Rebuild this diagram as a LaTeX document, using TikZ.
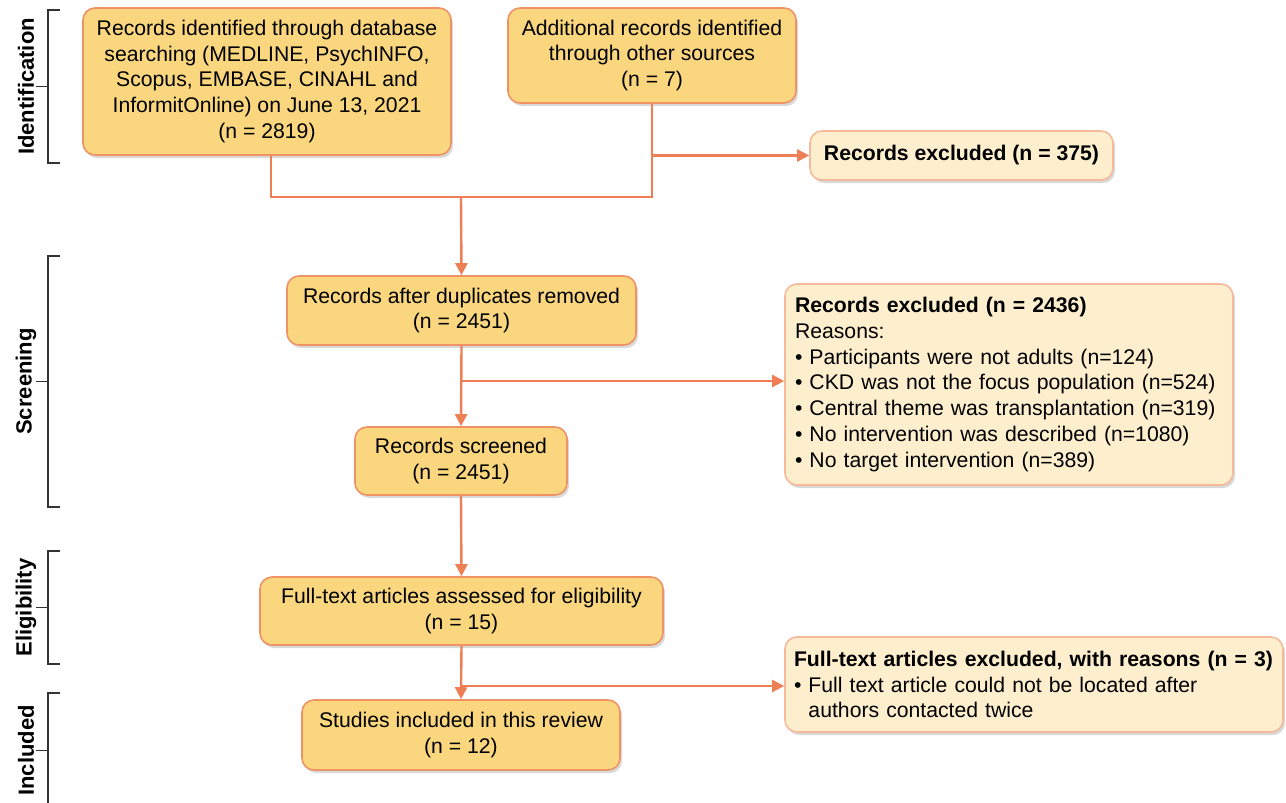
\documentclass[tikz,border=0pt]{standalone}
\usepackage{fontspec}
\setmainfont{Liberation Sans}
\usepackage{xcolor}
\usepackage{tikz}
\usetikzlibrary{arrows.meta,positioning,shadows}
\definecolor{figgold}{HTML}{FAD77E}
\definecolor{figedge}{HTML}{EF9367}
\definecolor{figcream}{HTML}{FDEFCD}
\definecolor{figpeach}{HTML}{F6B99A}
\definecolor{figarrow}{HTML}{EE7F55}
\definecolor{figdark}{HTML}{333333}

\begin{document}
\begin{tikzpicture}[x=0.5pt,y=-0.5pt,
  stagebox/.style={draw=figedge, fill=figgold, rounded corners=6pt, line width=0.8pt,
    align=center, inner sep=2pt, font=\fontsize{10.6}{12.9}\selectfont,
    drop shadow={shadow xshift=1pt, shadow yshift=-1.5pt, opacity=0.25, fill=black!60}},
  exclbox/.style={stagebox, draw=figpeach, fill=figcream},
  flow/.style={draw=figarrow, line width=1.2pt},
  flowarr/.style={flow, -{Triangle[length=6pt,width=6pt]}},
  phase/.style={rotate=90, font=\fontsize{11}{13}\selectfont\bfseries},
  bracket/.style={draw=figdark, line width=0.8pt}]
\useasboundingbox (0,0) rectangle (1286,803);

% stages
\node[stagebox, minimum width=184pt, minimum height=73.5pt] (dbsearch) at (267,81.5)
  {Records identified through database\\searching (MEDLINE, PsychINFO,\\Scopus, EMBASE, CINAHL and\\InformitOnline) on June 13, 2021\\(n = 2819)};
\node[stagebox, minimum width=144pt, minimum height=47.5pt] (othersrc) at (652,55.5)
  {Additional records identified\\through other sources\\(n = 7)};
\node[exclbox, minimum width=151.5pt, minimum height=24.5pt] (exclid) at (961.5,155.5)
  {\bfseries Records excluded (n = 375)};
\node[stagebox, minimum width=174.5pt, minimum height=34.5pt] (dedup) at (461.5,310.5)
  {Records after duplicates removed\\(n = 2451)};
\node[exclbox, align=left, text width=214pt, inner xsep=5pt, minimum height=100.5pt] (exclscr) at (1009,384.5)
  {\textbf{Records excluded (n = 2436)}\\Reasons:\\• Participants were not adults (n=124)\\\mbox{• CKD was not the focus population (n=524)}\\\mbox{• Central theme was transplantation (n=319)}\\\mbox{• No intervention was described (n=1080)}\\• No target intervention (n=389)};
\node[stagebox, minimum width=106pt, minimum height=34pt] (screened) at (461,461)
  {Records screened\\(n = 2451)};
\node[stagebox, minimum width=201.5pt, minimum height=34pt] (fulltext) at (461.5,611)
  {Full-text articles assessed for eligibility\\(n = 15)};
\node[exclbox, align=left, text width=240pt, inner xsep=4.5pt, minimum height=47.5pt] (exclfull) at (1034,684.5)
  {\mbox{\textbf{Full-text articles excluded, with reasons (n = 3)}}\\\mbox{• Full text article could not be located after}\\\hphantom{• }authors contacted twice};
\node[stagebox, minimum width=159pt, minimum height=35pt] (included) at (461,735)
  {Studies included in this review\\(n = 12)};

% connectors
\coordinate (merge) at (461,197);
\coordinate (splitscr) at (461,381);
\coordinate (splitfull) at (461,686);
\draw[flow] ([xshift=2pt]dbsearch.south) |- (merge) -| (othersrc.south);
\draw[flowarr] (othersrc.south |- exclid.west) -- (exclid.west);
\draw[flowarr] (merge) -- (dedup.north);
\draw[flowarr] (dedup.south) -- (screened.north);
\draw[flowarr] (splitscr) -- (splitscr -| exclscr.west);
\draw[flowarr] (screened.south) -- (fulltext.north);
\draw[flowarr] (fulltext.south) -- (included.north);
\draw[flowarr] (splitfull) -- (splitfull -| exclfull.west);

% phase brackets
\foreach \ytop/\ybot/\phasename in {10/163/Identification, 256/507/Screening, 551/664/Eligibility, 693/808/Included}{
  \pgfmathsetmacro{\ymid}{(\ytop+\ybot)/2}
  \draw[bracket] (60,\ytop) -- (48,\ytop) -- (48,\ybot) -- (60,\ybot);
  \draw[bracket] (36,\ymid) -- (48,\ymid);
  \node[phase] (\phasename) at (26,\ymid) {\phasename};
}
\end{tikzpicture}
\end{document}
